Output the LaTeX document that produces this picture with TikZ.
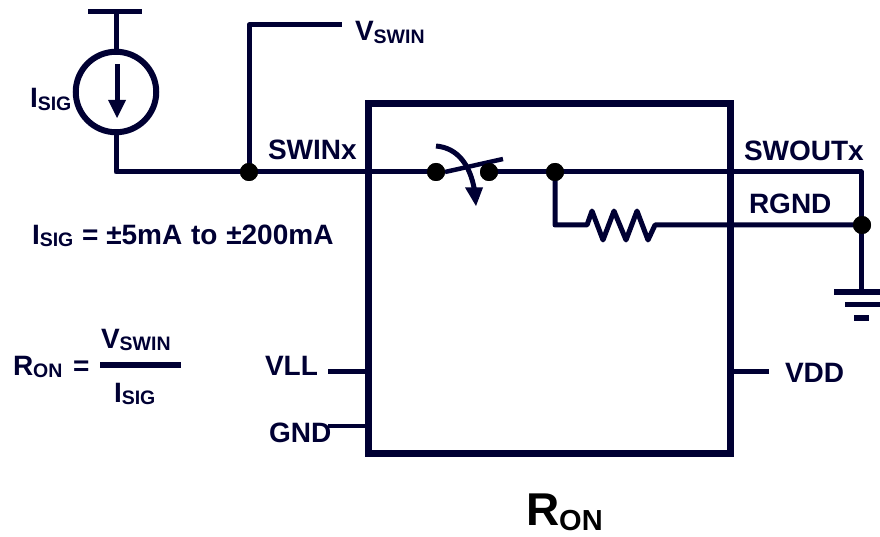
\documentclass[tikz,border=0pt]{standalone}
\usepackage{fontspec}
\setmainfont{Liberation Sans}[BoldFont={Liberation Sans Bold}]
\usetikzlibrary{arrows.meta}
\definecolor{navy}{HTML}{000033}
\newcommand{\sizedtxt}[2]{{\fontsize{#1}{#1}\selectfont #2}}
\newcommand{\lab}[2]{\sizedtxt{28}{#1}\raisebox{-2.5pt}[\height][0pt]{\sizedtxt{19.5}{#2}}}
\tikzset{
  wire/.style={draw=navy,line width=5pt,line join=round},
  thin wire/.style={draw=navy,line width=3.6pt},
  junction/.style={circle,fill=black,inner sep=0pt,minimum size=18pt},
  txt/.style={anchor=base west,inner sep=0pt,outer sep=0pt,text=navy,font=\bfseries\fontsize{28}{28}\selectfont},
  bar/.style={draw=navy,line width=5.5pt}
}
\begin{document}
\begin{tikzpicture}[x=1pt,y=-1pt]
\useasboundingbox (0,0) rectangle (880,537);
% chip
\node[draw=navy,line width=7pt,minimum width=362pt,minimum height=349pt,inner sep=0pt,outer sep=0pt] (chip) at (549,278.5) {};
% source
\node[draw=navy,line width=6pt,circle,minimum size=80.5pt,inner sep=0pt,outer sep=0pt] (src) at (116,92) {};
\coordinate (tl) at (88,11.5); \coordinate (tr) at (142,11.5); \coordinate (tm) at (116,11.5);
\draw[bar] (tl) -- (tr);
\draw[wire] (tm) -- (src.north);
\coordinate (as) at (117,64); \coordinate (ae) at (117,100); \coordinate (at) at (117,118);
\coordinate (ahl) at (108,100); \coordinate (ahr) at (126,100);
\draw[draw=navy,line width=5pt] (as) -- (ae);
\fill[navy] (ahl) -- (ahr) -- (at) -- cycle;
% junctions
\node[junction] (j1) at (249,172) {};
\node[junction] (s1) at (436,172) {};
\node[junction] (s2) at (489,172) {};
\node[junction] (j2) at (555,172) {};
\node[junction] (j3) at (862,225) {};
\coordinate (vsw) at (342,25);
\coordinate (c1) at (861,172);
\coordinate (gnd) at (861,292);
\draw[wire] (src.south) |- (j1.center);
\draw[wire] (j1.center) |- (vsw);
\draw[wire] (j1.center) -- (s1.center);
\draw[wire] (s2.center) -- (j2.center);
\draw[wire] (j2.center) -- (c1) -- (gnd);
% switch blade
\coordinate (bl) at (445,172); \coordinate (bt) at (503,159);
\draw[draw=navy,line width=4.5pt] (bl) -- (bt);
\coordinate (cs) at (436,146); \coordinate (ce) at (474.5,190);
\draw[draw=navy,line width=5pt] (cs) .. controls (458,148) and (470,165) .. (ce);
\coordinate (chl) at (465,187.5); \coordinate (chr) at (483,187.5); \coordinate (cht) at (476,206);
\fill[navy] (chl) -- (chr) -- (cht) -- cycle;
% resistor
\coordinate (r0) at (555,225);
\coordinate (r1) at (587,225);
\coordinate (r2) at (655,225);
\draw[wire] (j2.center) -- (r0) -- (r1) -- (592,211) -- (603,240) -- (614,211) -- (626,240) -- (637,211) -- (648,240) -- (r2) -- (j3.center);
\node[junction] at (j1) {};
\node[junction] at (s1) {};
\node[junction] at (s2) {};
\node[junction] at (j2) {};
\node[junction] at (j3) {};
% ground
\coordinate (g1l) at (834,292); \coordinate (g1r) at (880,292);
\coordinate (g2l) at (845,304.5); \coordinate (g2r) at (880,304.5);
\coordinate (g3l) at (854,318); \coordinate (g3r) at (869,318);
\draw[bar] (g1l) -- (g1r);
\draw[bar] (g2l) -- (g2r);
\draw[bar] (g3l) -- (g3r);
% pins
\coordinate (pvll) at (328,371);
\coordinate (pgnd) at (328,426);
\coordinate (pvdd) at (769,371);
\draw[wire] (pvll) -- (pvll -| chip.west);
\draw[thin wire] (pgnd) -- (pgnd -| chip.west);
\draw[wire] (pvdd) -- (pvdd -| chip.east);
% fraction
\coordinate (fl) at (100,365); \coordinate (fr) at (181,365);
\draw[draw=navy,line width=6pt] (fl) -- (fr);
% texts
\node[txt] (tisig) at (30,108) {\lab{I}{SIG}};
\node[txt] (tvswin) at (355,41) {\lab{V}{SWIN}};
\node[txt] (tswin) at (268,160) {SWINx};
\node[txt] (tswout) at (744,161) {SWOUTx};
\node[txt] (trgnd) at (749,214) {RGND};
\node[txt] (tvdd) at (785,382) {VDD};
\node[txt] (tvll) at (265,375) {VLL};
\node[txt] (tgnd) at (269,442) {GND};
\node[txt] (teq) at (32,244) {\lab{I}{SIG}\hspace{1pt} = ±5mA\hspace{1pt} to\hspace{1pt} ±200mA};
\node[txt] (tron) at (13,375) {\lab{R}{ON}};
\node[txt] (teq2) at (73,375) {=};
\node[txt] (tfv) at (101,348) {\lab{V}{SWIN}};
\node[txt] (tfi) at (114,402) {\lab{I}{SIG}};
\node[txt,text=black] (tbig) at (526,525) {\sizedtxt{46}{R}\raisebox{-5pt}[\height][0pt]{\sizedtxt{29}{ON}}};
\end{tikzpicture}
\end{document}
